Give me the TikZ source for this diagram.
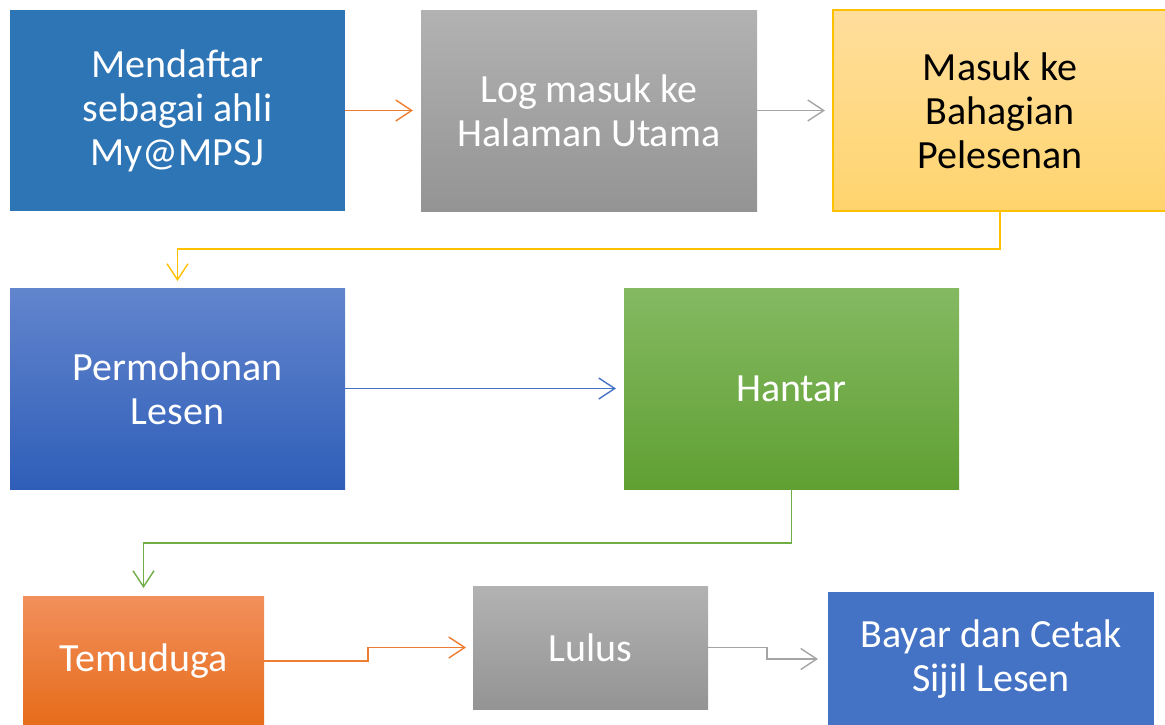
\documentclass[tikz,border=0pt]{standalone}
\usepackage{fontspec}
\setmainfont{Carlito}
\usetikzlibrary{arrows.meta}
\definecolor{DaftarCol}{RGB}{46,117,182}
\definecolor{GreyTop}{RGB}{178,178,178}
\definecolor{GreyBot}{RGB}{148,148,148}
\definecolor{GoldTop}{RGB}{255,222,156}
\definecolor{GoldBot}{RGB}{255,212,110}
\definecolor{GoldLine}{RGB}{255,192,0}
\definecolor{BlueTop}{RGB}{98,133,205}
\definecolor{BlueBot}{RGB}{47,94,184}
\definecolor{GreenTop}{RGB}{132,185,98}
\definecolor{GreenBot}{RGB}{96,160,51}
\definecolor{OrangeTop}{RGB}{242,143,92}
\definecolor{OrangeBot}{RGB}{230,108,25}
\definecolor{BayarCol}{RGB}{68,114,196}
\definecolor{OrangeLine}{RGB}{237,125,49}
\definecolor{GreyLine}{RGB}{165,165,165}
\definecolor{GreenLine}{RGB}{112,173,71}
\tikzstyle{stepbox} = [rectangle, anchor=north west, inner sep=0pt, outer sep=0pt, align=center, text=white, font=\fontsize{40}{44}\selectfont]
\tikzstyle{conn} = [-{Straight Barb[length=16pt,width=21pt]}, line width=1.4pt, shorten >=8pt]

\begin{document}
\begin{tikzpicture}[x=1pt,y=-1pt]

                    \useasboundingbox (0,0) rectangle (1165,724);

                    % top row
                    \node[stepbox, fill=DaftarCol, minimum width=335pt, minimum height=201pt] (daftar) at (10,10) {Mendaftar\\sebagai ahli\\My@MPSJ};
                    \node[stepbox, top color=GreyTop, bottom color=GreyBot, minimum width=336pt, minimum height=201pt] (login) at (421,10) {Log masuk ke\\Halaman Utama};
                    \node[stepbox, top color=GoldTop, bottom color=GoldBot, draw=GoldLine, line width=1.2pt, text=black, minimum width=334pt, minimum height=201pt] (masuk) at (833,10) {Masuk ke\\Bahagian\\Pelesenan};

                    % middle row
                    \node[stepbox, top color=BlueTop, bottom color=BlueBot, minimum width=335pt, minimum height=201pt] (mohon) at (10,288) {Permohonan\\Lesen};
                    \node[stepbox, top color=GreenTop, bottom color=GreenBot, minimum width=335pt, minimum height=201pt] (hantar) at (624,288) {Hantar};

                    % bottom row
                    \node[stepbox, top color=OrangeTop, bottom color=OrangeBot, minimum width=241pt, minimum height=130pt] (temu) at (23,596) {Temuduga};
                    \node[stepbox, top color=GreyTop, bottom color=GreyBot, minimum width=235pt, minimum height=123pt] (lulus) at (473,586) {Lulus};
                    \node[stepbox, fill=BayarCol, minimum width=326pt, minimum height=134pt] (bayar) at (828,592) {Bayar dan Cetak\\Sijil Lesen};

                    \draw [conn, OrangeLine] (daftar.east) -- (login.west);
                    \draw [conn, GreyLine] (login.east) -- (masuk.west);
                    \draw [conn, GoldLine, shorten >=7pt] (masuk.south) -- ++(0,38) -| (mohon.north);
                    \draw [conn, BayarCol] (mohon.east) -- (hantar.west);
                    \draw [conn, GreenLine] (hantar.south) -- ++(0,54) -| (temu.north);
                    \draw [conn, OrangeLine, shorten >=7pt] (temu.east) -- ++(104,0) |- (lulus.west);
                    \draw [conn, GreyLine, shorten >=10pt] (lulus.east) -- ++(59,0) |- (bayar.west);

                \end{tikzpicture}
\end{document}
